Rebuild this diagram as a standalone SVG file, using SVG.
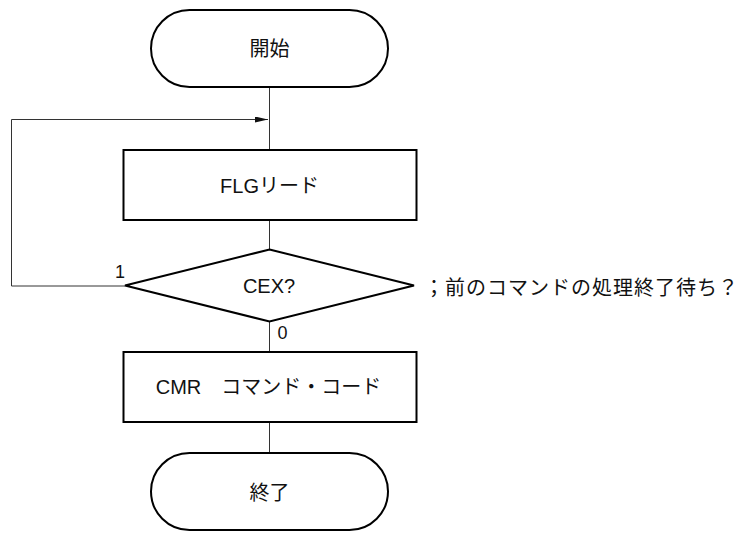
<svg xmlns="http://www.w3.org/2000/svg" width="742" height="533" viewBox="0 0 742 533">
<style>
.shape{fill:#fff;stroke:#000;stroke-width:2}
.conn{fill:none;stroke:#333;stroke-width:1}
.t{font-family:"Liberation Sans","Noto Sans CJK JP",sans-serif;font-size:20px;fill:#111;text-anchor:middle}
.lbl{font-family:"Liberation Sans",sans-serif;font-size:18px;fill:#111}
.cm{font-family:"Noto Sans CJK JP",sans-serif;font-size:20px;fill:#111}
</style>
<defs>
<marker id="arr" markerWidth="13" markerHeight="6" refX="13" refY="3" orient="auto" markerUnits="userSpaceOnUse">
<path d="M0,0 L13,3 L0,6 Z" fill="#111"/>
</marker>
</defs>
<g id="connectors">
<line class="conn" x1="269.5" y1="88" x2="269.5" y2="150"/>
<line class="conn" x1="269.5" y1="220" x2="269.5" y2="249"/>
<line class="conn" x1="269.5" y1="321" x2="269.5" y2="352"/>
<line class="conn" x1="269.5" y1="422" x2="269.5" y2="452"/>
<polyline class="conn" points="125,286 11.5,286 11.5,119.5 268,119.5" marker-end="url(#arr)"/>
<text class="lbl" x="115" y="278">1</text>
<text class="lbl" x="277.5" y="339">0</text>
</g>
<g id="start">
<rect class="shape" x="151" y="10" width="237" height="77" rx="38.5" ry="38.5"/>
<text class="t" x="269.5" y="56">開始</text>
</g>
<g id="flg">
<rect class="shape" x="123.5" y="150" width="293" height="70"/>
<text class="t" x="269.5" y="192.5">FLGリード</text>
</g>
<g id="cex">
<polygon class="shape" points="269.5,249.5 414,285.5 269.5,321.5 125,285.5"/>
<text class="t" x="269" y="293">CEX?</text>
</g>
<g id="comment">
<text class="cm" x="424" y="295" textLength="314" lengthAdjust="spacing">；前のコマンドの処理終了待ち？</text>
</g>
<g id="cmr">
<rect class="shape" x="123.5" y="352" width="293" height="70"/>
<text class="t" x="268.5" y="394">CMR　コマンド・コード</text>
</g>
<g id="end">
<rect class="shape" x="151" y="453" width="237" height="77" rx="38.5" ry="38.5"/>
<text class="t" x="269.5" y="499.5">終了</text>
</g>
</svg>
